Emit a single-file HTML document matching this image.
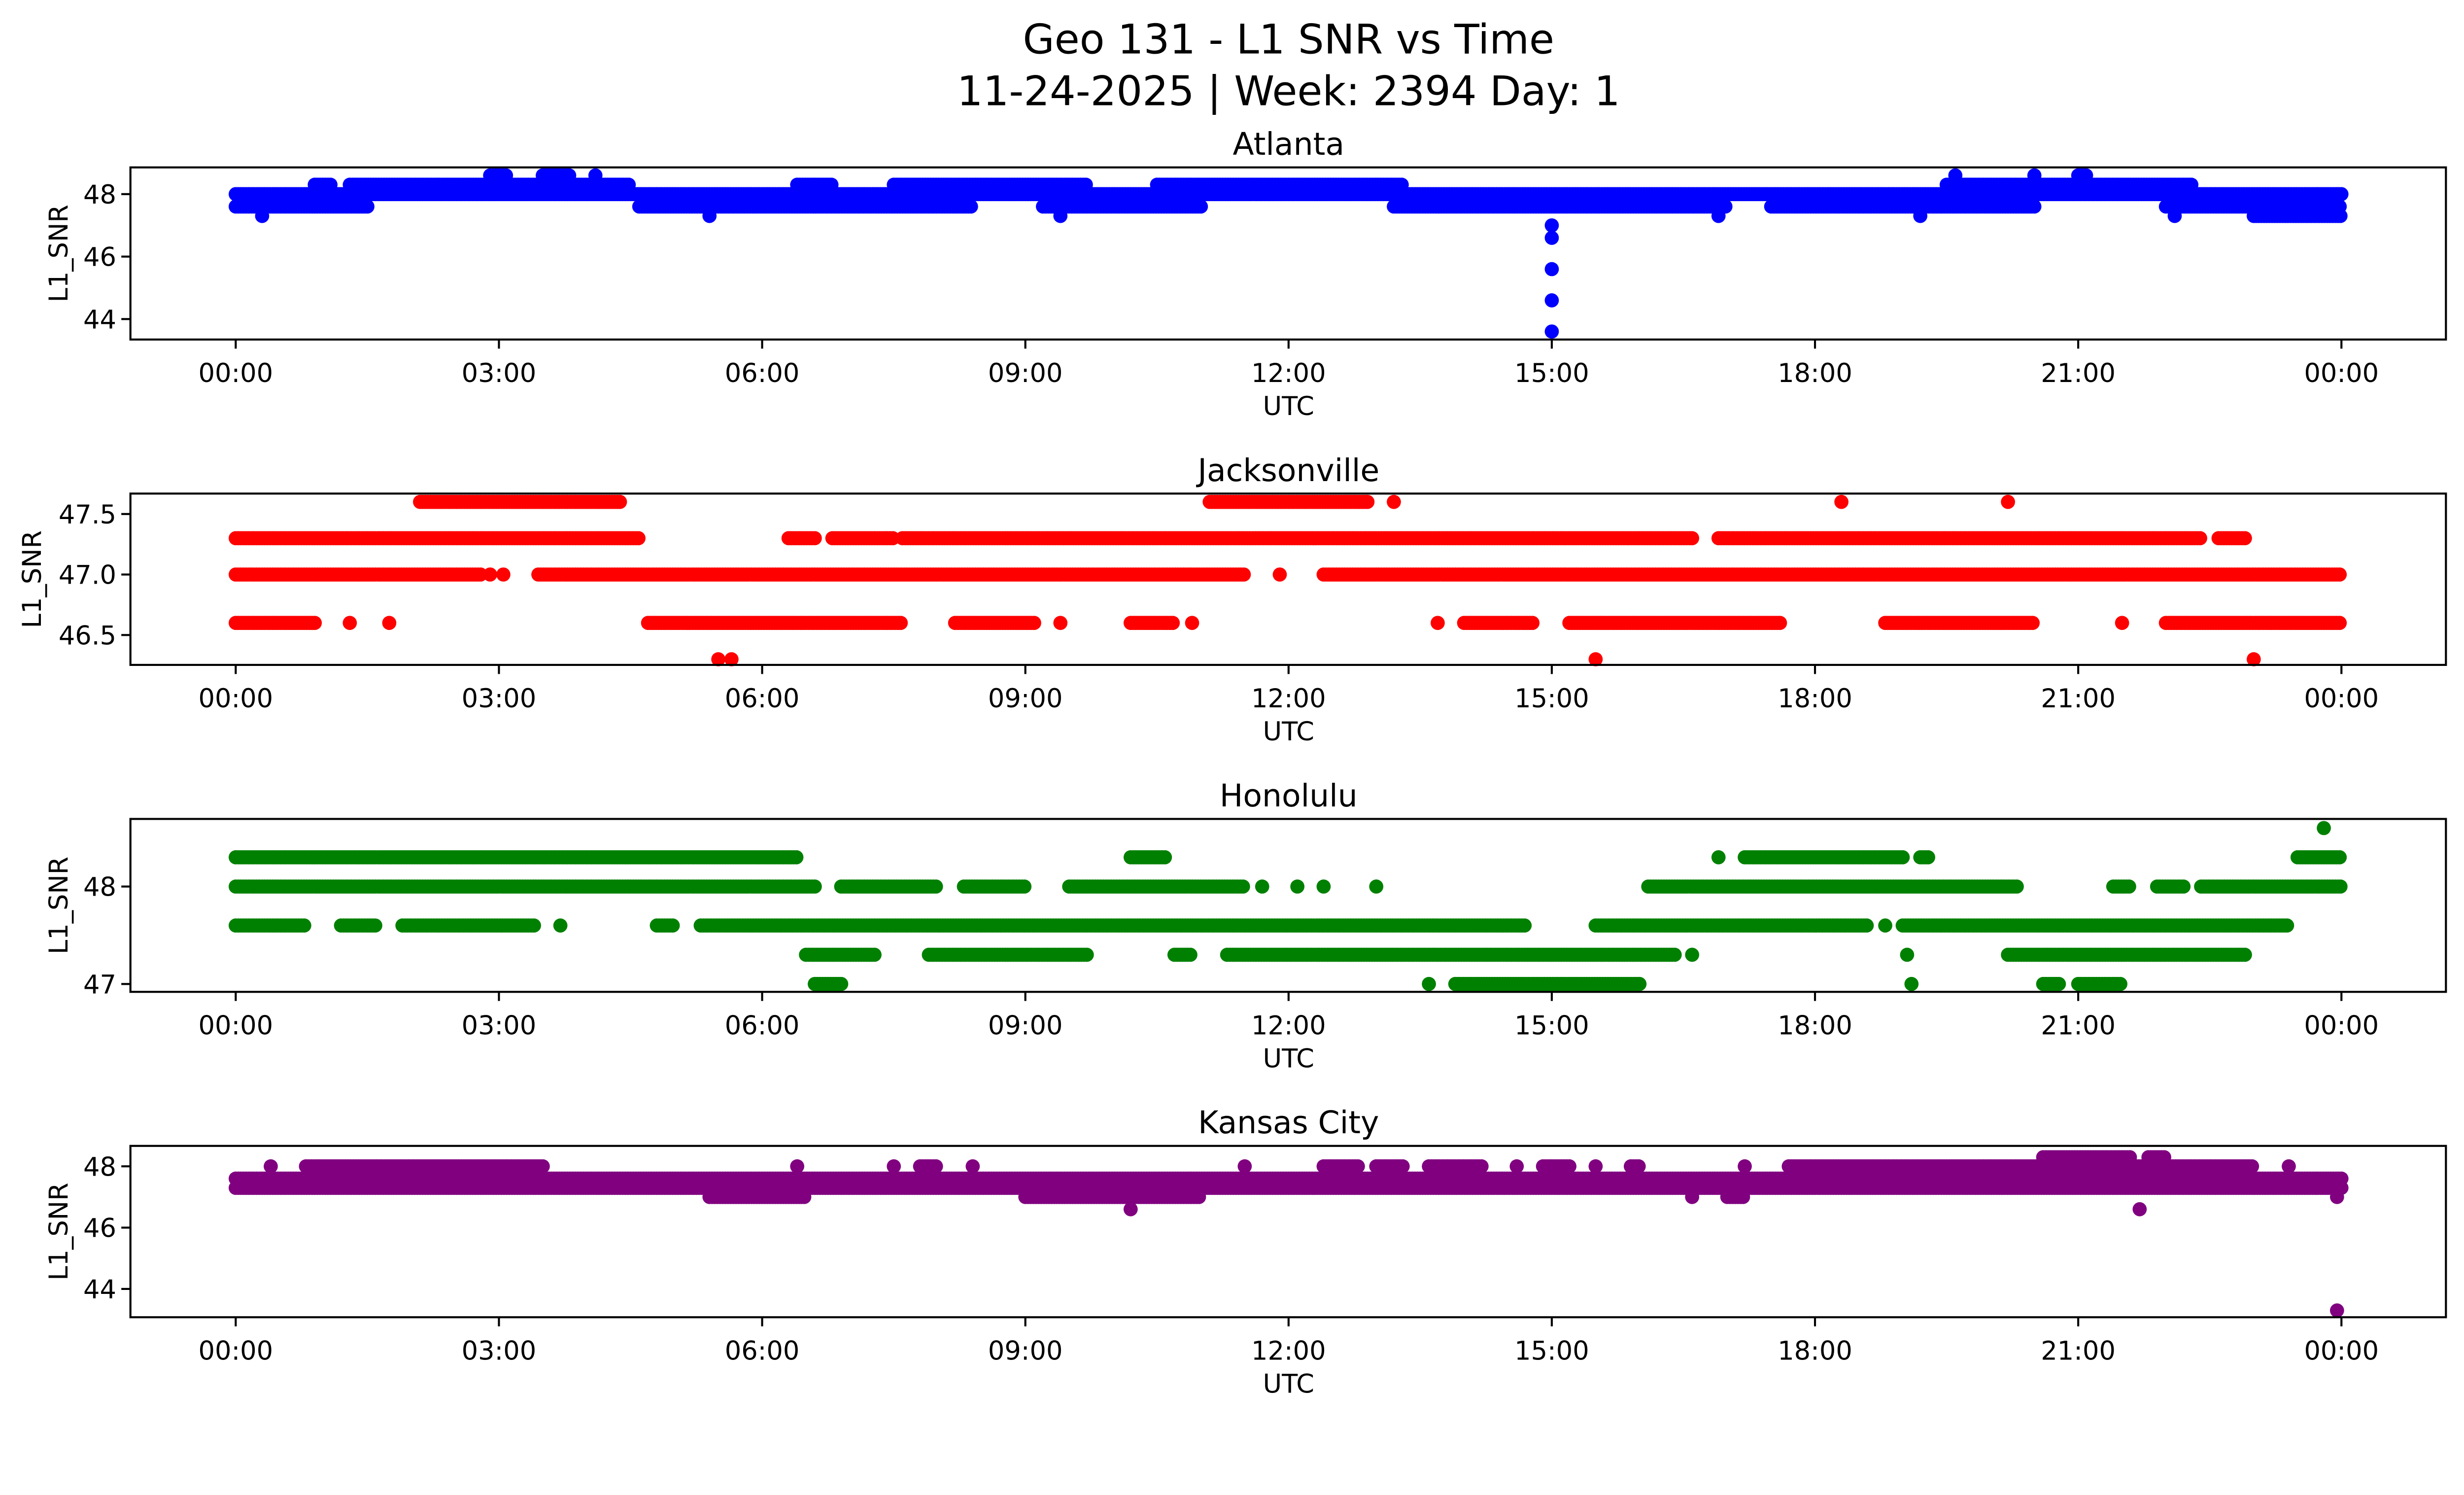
<!DOCTYPE html>
<html><head><meta charset="utf-8">
<style>
html,body{margin:0;padding:0;background:#fff;width:100%;height:100%;overflow:hidden;}
svg{display:block;position:absolute;left:0;top:0;width:100vw;height:57.465vw;font-family:"DejaVu Sans","Liberation Sans",sans-serif;}
</style></head>
<body>
<svg id="chart" viewBox="0 0 1568 901" preserveAspectRatio="none" xmlns="http://www.w3.org/2000/svg">
<rect width="1568" height="901" fill="#fff"/>
<text x="820" y="34" font-size="26" text-anchor="middle" fill="#000">Geo 131 - L1 SNR vs Time</text>
<text x="820" y="67" font-size="26" text-anchor="middle" fill="#000">11-24-2025 | Week: 2394 Day: 1</text>
<g id="panels"></g>
</svg>
<script>
// Segments: [startHour, endHour, value]
const atlantaSegs = [[0,24,48.0],[0,1.5,47.6],[4.6,8.4,47.6],[9.2,11,47.6],[13.2,17,47.6],[17.5,20.5,47.6],[22,24,47.6],
 [0.9,1.1,48.3],[1.3,4.5,48.3],[6.4,6.8,48.3],[7.5,9.7,48.3],[10.5,13.3,48.3],[19.5,22.3,48.3],
 [2.9,3.1,48.6],[3.5,3.8,48.6],[4.1,4.1,48.6],[19.6,19.6,48.6],[20.5,20.5,48.6],[21.0,21.1,48.6],
 [0.3,0.3,47.3],[5.4,5.4,47.3],[9.4,9.4,47.3],[16.9,16.9,47.3],[19.2,19.2,47.3],[22.1,22.1,47.3],[23.0,24,47.3],
 [15,15,47.0],[15,15,46.6],[15,15,45.6],[15,15,44.6],[15,15,43.6]];
const jaxSegs = [[0,2.8,47.0],[2.9,2.9,47.0],[3.05,3.05,47.0],[3.45,11.5,47.0],[11.9,11.9,47.0],[12.4,24,47.0],
 [0,4.6,47.3],[6.3,6.6,47.3],[6.8,7.5,47.3],[7.6,16.6,47.3],[16.9,22.4,47.3],[22.6,22.9,47.3],
 [2.1,4.4,47.6],[11.1,12.9,47.6],[13.2,13.2,47.6],[18.3,18.3,47.6],[20.2,20.2,47.6],
 [0,0.9,46.6],[1.3,1.3,46.6],[1.75,1.75,46.6],[4.7,7.6,46.6],[8.2,9.1,46.6],[9.4,9.4,46.6],[10.2,10.7,46.6],[10.9,10.9,46.6],
 [13.7,13.7,46.6],[14.0,14.8,46.6],[15.2,17.6,46.6],[18.8,20.5,46.6],[21.5,21.5,46.6],[22.0,24,46.6],
 [5.5,5.5,46.3],[5.65,5.65,46.3],[15.5,15.5,46.3],[23.0,23.0,46.3]];
const honSegs = [[0,6.4,48.3],[10.2,10.6,48.3],[16.9,16.9,48.3],[17.2,19.0,48.3],[19.2,19.3,48.3],[23.5,24,48.3],
 [0,6.6,48.0],[6.9,8.0,48.0],[8.3,9.0,48.0],[9.5,11.5,48.0],[11.7,11.7,48.0],[12.1,12.1,48.0],[12.4,12.4,48.0],[13.0,13.0,48.0],
 [16.1,20.3,48.0],[21.4,21.6,48.0],[21.9,22.2,48.0],[22.4,24,48.0],
 [0,0.8,47.6],[1.2,1.6,47.6],[1.9,3.4,47.6],[3.7,3.7,47.6],[4.8,5.0,47.6],[5.3,14.7,47.6],[15.5,18.6,47.6],[18.8,18.8,47.6],[19.0,23.4,47.6],
 [6.5,7.3,47.3],[7.9,9.7,47.3],[10.7,10.9,47.3],[11.3,16.4,47.3],[16.6,16.6,47.3],[20.2,22.9,47.3],[19.05,19.05,47.3],
 [6.6,6.9,47.0],[13.6,13.6,47.0],[13.9,16.0,47.0],[19.1,19.1,47.0],[20.6,20.8,47.0],[21.0,21.5,47.0],
 [23.8,23.8,48.6]];
const kcSegs = [[0,24,47.6],[0,24,47.3],
 [0.4,0.4,48.0],[0.8,3.5,48.0],[6.4,6.4,48.0],[7.5,7.5,48.0],[7.8,8.0,48.0],[8.4,8.4,48.0],[11.5,11.5,48.0],[12.4,12.8,48.0],
 [13.0,13.3,48.0],[13.6,14.2,48.0],[14.6,14.6,48.0],[14.9,15.2,48.0],[15.5,15.5,48.0],[15.9,16.0,48.0],[17.2,17.2,48.0],[17.7,23.0,48.0],[23.4,23.4,48.0],
 [5.4,6.5,47.0],[9.0,11.0,47.0],[16.6,16.6,47.0],[17.0,17.2,47.0],[23.95,23.95,47.0],
 [20.6,21.6,48.3],[21.8,22.0,48.3],
 [10.2,10.2,46.6],[21.7,21.7,46.6],[23.95,23.95,43.3]];
const xTickLabels = ["00:00","03:00","06:00","09:00","12:00","15:00","18:00","21:00","00:00"];
const panelTitles = ["Atlanta","Jacksonville","Honolulu","Kansas City"];
const panelColors = ["#0000ff","#ff0000","#008000","#800080"];
const panelSegs = [atlantaSegs, jaxSegs, honSegs, kcSegs];
const panelYTicks = [[44,46,48],[46.5,47.0,47.5],[47,48],[44,46,48]];
const panelYTickLabels = [["44","46","48"],["46.5","47.0","47.5"],["47","48"],["44","46","48"]];

const NS="http://www.w3.org/2000/svg";
const layout=[
 {top:106.5,bot:216,v1:48,p1:123.5,v2:44,p2:203},
 {top:314,bot:423,v1:47.5,p1:327,v2:46.5,p2:404},
 {top:521,bot:631,v1:48,p1:564,v2:47,p2:626},
 {top:729,bot:838,v1:48,p1:742,v2:44,p2:820}];
const AX0=83, AX1=1556.5;
function xScale(h){return 150+(1490-150)*h/24;}
function mk(tag,attrs,parent){const e=document.createElementNS(NS,tag);for(const k in attrs)e.setAttribute(k,attrs[k]);parent.appendChild(e);return e;}
const root=document.getElementById('panels');
panelSegs.forEach((segs,i)=>{
 const L=layout[i];
 const yScale=v=>L.p1+(v-L.v1)*(L.p2-L.p1)/(L.v2-L.v1);
 const g=mk('g',{},root);
 
 
 const pts=mk('g',{fill:panelColors[i]},g);
 
 
 segs.forEach(s=>{
  for(let h=s[0];h<=s[1]+1e-9;h+=0.03){
   const c=mk('circle',{cx:xScale(h).toFixed(1),cy:yScale(s[2]).toFixed(1),r:4.5},pts);
   
   
  }
 });
 const frame=mk('rect',{x:AX0,y:L.top,width:AX1-AX0,height:L.bot-L.top,fill:'none',stroke:'#000','stroke-width':1.3},g);
 
 
 xTickLabels.forEach((lab,k)=>{
  const x=xScale(k*3);
  mk('line',{x1:x,x2:x,y1:L.bot,y2:L.bot+5.8,stroke:'#000','stroke-width':1.3},g);
  const t=mk('text',{x:x,y:L.bot+27,'font-size':16.5,'text-anchor':'middle'},g);
  t.textContent=lab;
  
  
 });
 panelYTicks[i].forEach((v,k)=>{
  const y=yScale(v);
  mk('line',{x1:AX0-5.8,x2:AX0,y1:y,y2:y,stroke:'#000','stroke-width':1.3},g);
  const t=mk('text',{x:AX0-9,y:y+6,'font-size':16.5,'text-anchor':'end'},g);
  t.textContent=panelYTickLabels[i][k];
  
  
 });
 const tt=mk('text',{x:820,y:L.top-8,'font-size':19.8,'text-anchor':'middle'},g);
 tt.textContent=panelTitles[i];
 
 
 const xl=mk('text',{x:820,y:L.bot+48,'font-size':16.5,'text-anchor':'middle'},g);
 xl.textContent='UTC';
 
 
 const cy=(L.top+L.bot)/2;
 const yl=mk('text',{x:0,y:0,'font-size':16.5,'text-anchor':'middle',transform:'translate('+(i==1?26:43)+','+cy+') rotate(-90)'},g);
 yl.textContent='L1_SNR';
 
 
});
</script>
</body></html>
